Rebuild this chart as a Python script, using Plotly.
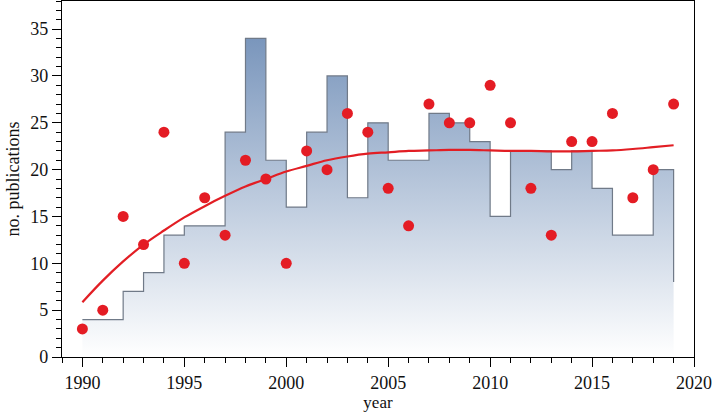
import plotly.graph_objects as go

years = list(range(1990, 2020))
step_counts = [4, 4, 7, 9, 13, 14, 14, 24, 34, 21, 16, 24, 30, 17, 25,
               21, 21, 26, 25, 23, 15, 22, 22, 20, 22, 18, 13, 13, 20, 8]
dot_counts = [3, 5, 15, 12, 24, 10, 17, 13, 21, 19, 10, 22, 20, 26, 24,
              18, 14, 27, 25, 25, 29, 25, 18, 13, 23, 23, 26, 17, 20, 27]
trend_values = [5.85, 8.15, 10.2, 12.0, 13.5, 14.9, 16.1, 17.2, 18.2, 19.0,
                19.8, 20.4, 21.0, 21.4, 21.7, 21.85, 22.0, 22.05, 22.1, 22.1,
                22.05, 22.0, 22.0, 21.95, 21.95, 22.0, 22.05, 22.2, 22.4, 22.6]

x_ticks = [1990, 1995, 2000, 2005, 2010, 2015, 2020]
y_ticks = [0, 5, 10, 15, 20, 25, 30, 35]

fig = go.Figure()
fig.add_trace(go.Scatter(
    x=years, y=step_counts, mode="lines", line_shape="hv",
    line=dict(color="rgb(112,122,136)", width=1.2),
    fill="tozeroy",
    fillgradient=dict(type="vertical",
                      colorscale=[[0, "rgb(255,255,255)"], [1, "rgb(122,150,188)"]],
                      start=0, stop=34),
    showlegend=False, hoverinfo="skip"))
fig.add_trace(go.Scatter(
    x=years, y=trend_values, mode="lines", line_shape="spline",
    line=dict(color="rgb(226,30,36)", width=2.2), showlegend=False))
fig.add_trace(go.Scatter(
    x=years, y=dot_counts, mode="markers",
    marker=dict(color="rgb(228,28,36)", size=11), showlegend=False))

font = dict(family="Liberation Serif", size=18, color="#111")
fig.update_layout(
    width=713, height=412,
    margin=dict(l=62, r=19, t=1, b=55),
    paper_bgcolor="white", plot_bgcolor="white",
    font=font,
    xaxis=dict(range=[1989, 2020], tickvals=x_ticks, ticks="outside", ticklen=9,
               tickwidth=1.2, tickcolor="black", showline=True, linecolor="black",
               linewidth=1.3, mirror=True, showgrid=False, zeroline=False,
               minor=dict(dtick=1, ticks="outside", ticklen=5, tickcolor="black", tickwidth=1),
               title=dict(text="year", font=dict(size=17), standoff=2)),
    yaxis=dict(range=[0, 38], tickvals=y_ticks, ticks="outside", ticklen=9,
               tickwidth=1.2, tickcolor="black", showline=True, linecolor="black",
               linewidth=1.3, mirror=True, showgrid=False, zeroline=False,
               minor=dict(dtick=1, ticks="outside", ticklen=5, tickcolor="black", tickwidth=1),
               title=dict(text="no. publications", font=dict(size=18), standoff=5)),
)
fig.write_html("out.html", config={"displayModeBar": False},
               post_script="document.body.style.margin='0';")
